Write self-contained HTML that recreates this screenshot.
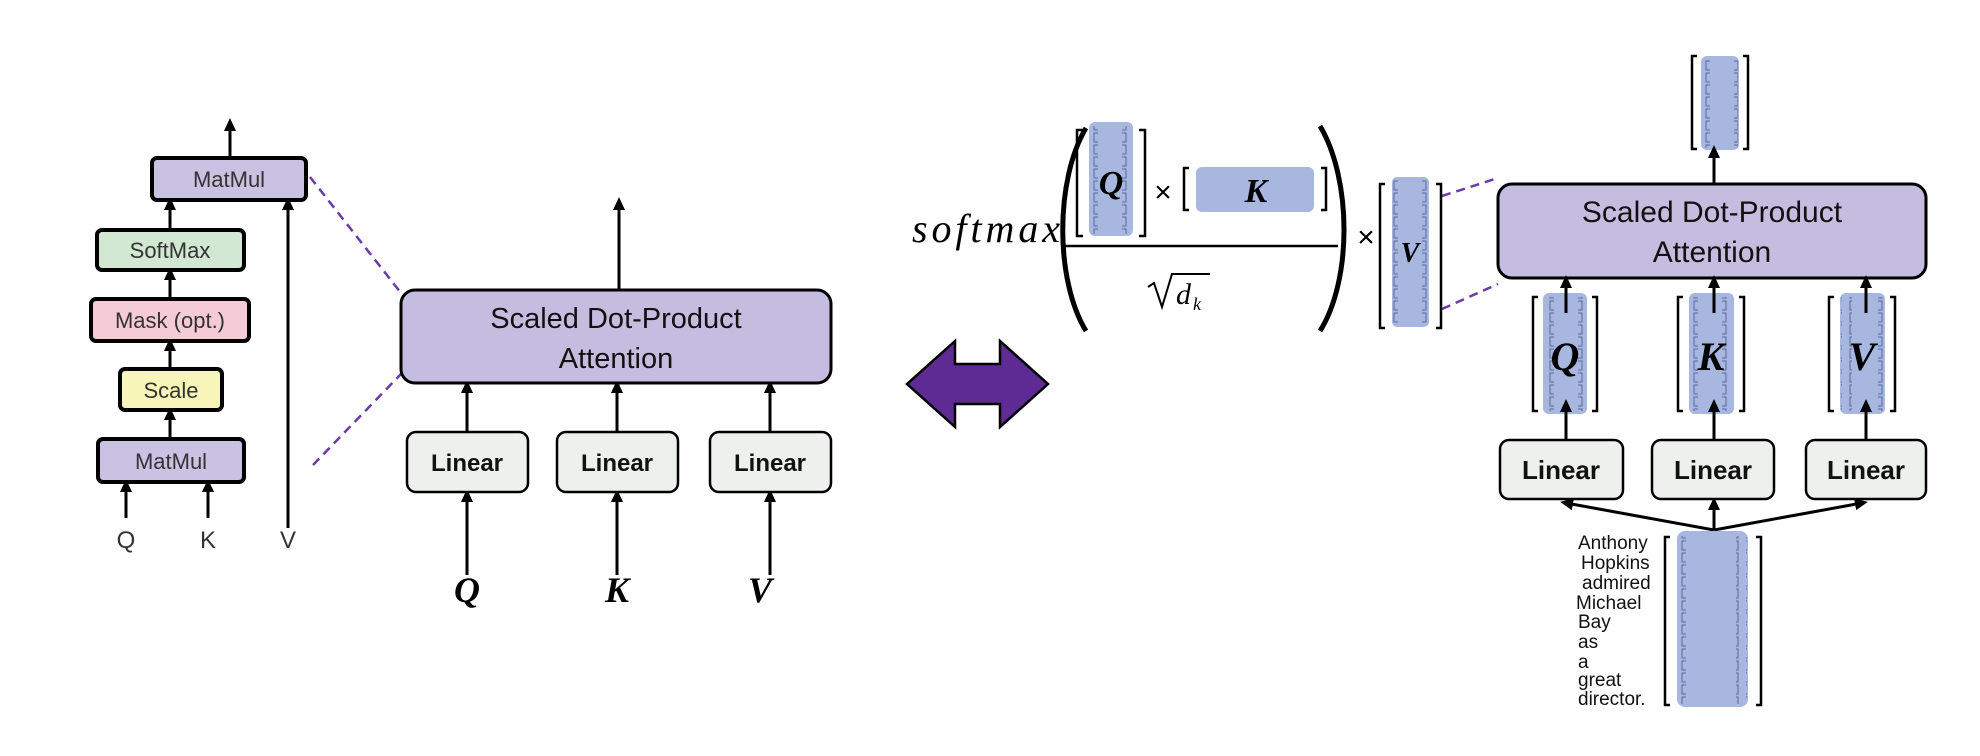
<!DOCTYPE html>
<html><head><meta charset="utf-8"><style>
html,body{margin:0;padding:0;background:#fff;}
svg{display:block;}
text{font-family:"Liberation Sans",sans-serif;}
.m{font-family:"Liberation Serif",serif;font-style:italic;}
.mb{font-family:"Liberation Serif",serif;font-style:italic;font-weight:bold;}
</style></head><body>
<svg width="1980" height="756" viewBox="0 0 1980 756" xmlns="http://www.w3.org/2000/svg">
<defs>
<marker id="ah" markerWidth="14" markerHeight="14" refX="7" refY="7" orient="auto" markerUnits="userSpaceOnUse">
<path d="M0,1 L13,7 L0,13 z" fill="#000"/></marker>
<pattern id="dl" width="12" height="12" patternUnits="userSpaceOnUse">
<path d="M6,1 H2 V10 H6" fill="none" stroke="#5a6a9a" stroke-width="1"/></pattern>
<pattern id="dr" width="12" height="12" patternUnits="userSpaceOnUse">
<path d="M6,1 H10 V10 H6" fill="none" stroke="#5a6a9a" stroke-width="1"/></pattern>
</defs>
<g stroke="#000" stroke-width="3" fill="none" marker-end="url(#ah)">
<line x1="230" y1="157" x2="230" y2="124"/>
<line x1="170" y1="230" x2="170" y2="203"/>
<line x1="170" y1="298" x2="170" y2="273"/>
<line x1="170" y1="369" x2="170" y2="344"/>
<line x1="170" y1="439" x2="170" y2="413"/>
<line x1="126" y1="518" x2="126" y2="485"/>
<line x1="208" y1="518" x2="208" y2="485"/>
<line x1="288" y1="528" x2="288" y2="203"/>
<line x1="619" y1="290" x2="619" y2="203"/>
<line x1="467" y1="432" x2="467" y2="386"/>
<line x1="617" y1="432" x2="617" y2="386"/>
<line x1="770" y1="432" x2="770" y2="386"/>
<line x1="467" y1="575" x2="467" y2="495"/>
<line x1="617" y1="575" x2="617" y2="495"/>
<line x1="770" y1="575" x2="770" y2="495"/>
</g>
<g stroke="#000" stroke-width="4">
<rect x="152" y="158" width="154" height="42" rx="5" fill="#c9c2e2"/>
<rect x="97" y="230" width="147" height="40" rx="5" fill="#d2e8d2"/>
<rect x="91" y="299" width="158" height="42" rx="5" fill="#f4cbd6"/>
<rect x="120" y="369" width="102" height="41" rx="5" fill="#f8f5b8"/>
<rect x="98" y="439" width="146" height="43" rx="5" fill="#c9c2e2"/>
</g>
<g font-size="22" fill="#333" text-anchor="middle">
<text x="229" y="187">MatMul</text>
<text x="170" y="258">SoftMax</text>
<text x="170" y="328">Mask (opt.)</text>
<text x="171" y="398">Scale</text>
<text x="171" y="469">MatMul</text>
<text x="126" y="548" font-size="24">Q</text>
<text x="208" y="548" font-size="24">K</text>
<text x="288" y="548" font-size="24">V</text>
</g>
<g stroke="#6a3aa8" stroke-width="2.5" stroke-dasharray="9,6">
<line x1="310" y1="177" x2="401" y2="293"/>
<line x1="313" y1="465" x2="401" y2="374"/>
<line x1="1442" y1="196" x2="1498" y2="178"/>
<line x1="1442" y1="309" x2="1498" y2="284"/>
</g>
<rect x="401" y="290" width="430" height="93" rx="14" fill="#c5bde0" stroke="#000" stroke-width="3"/>
<text x="616" y="328" font-size="29" text-anchor="middle" fill="#111">Scaled Dot-Product</text>
<text x="616" y="368" font-size="29" text-anchor="middle" fill="#111">Attention</text>
<g stroke="#000" stroke-width="2.5" fill="#eef0ee">
<rect x="407" y="432" width="121" height="60" rx="9"/>
<rect x="557" y="432" width="121" height="60" rx="9"/>
<rect x="710" y="432" width="121" height="60" rx="9"/>
</g>
<g font-size="24" font-weight="bold" text-anchor="middle" fill="#111">
<text x="467" y="471">Linear</text>
<text x="617" y="471">Linear</text>
<text x="770" y="471">Linear</text>
</g>
<g font-size="36" text-anchor="middle">
<text class="mb" x="467" y="602">Q</text>
<text class="mb" x="617" y="602">K</text>
<text class="mb" x="760" y="602">V</text>
</g>
<polygon points="907,384 955,341 955,364 1000,364 1000,341 1048,384 1000,427 1000,404 955,404 955,427" fill="#5e2a94" stroke="#000" stroke-width="2.5"/>
<text class="m" x="912" y="242" font-size="40" textLength="148" lengthAdjust="spacing">softmax</text>
<path d="M1086,128 C1055,180 1055,280 1086,331" fill="none" stroke="#000" stroke-width="5"/>
<path d="M1320,126 C1352,180 1352,280 1320,331" fill="none" stroke="#000" stroke-width="5"/>
<line x1="1065" y1="246" x2="1338" y2="246" stroke="#000" stroke-width="2.5"/>
<rect x="1089" y="122" width="44" height="114" rx="6" fill="#a7b7e0"/>
<rect x="1089" y="126" width="12" height="108" fill="url(#dl)"/>
<rect x="1121" y="126" width="12" height="108" fill="url(#dr)"/>
<path d="M1083,130 h-6 v106 h6 M1139,130 h6 v106 h-6" fill="none" stroke="#000" stroke-width="2.5"/>
<text class="mb" x="1111" y="194" font-size="34" text-anchor="middle">Q</text>
<text x="1163" y="202" font-size="30" text-anchor="middle">×</text>
<rect x="1196" y="167" width="118" height="45" rx="6" fill="#a7b7e0"/>
<path d="M1189,168 h-5 v42 h5 M1321,168 h5 v42 h-5" fill="none" stroke="#000" stroke-width="2.5"/>
<text class="mb" x="1256" y="202" font-size="34" text-anchor="middle">K</text>
<path d="M1148,287 l6,-4 l8,24 l10,-33 h38" fill="none" stroke="#000" stroke-width="2"/>
<text class="m" x="1176" y="304" font-size="30">d</text>
<text class="m" x="1193" y="310" font-size="18">k</text>
<text x="1366" y="247" font-size="30" text-anchor="middle">×</text>
<rect x="1392" y="177" width="37" height="150" rx="5" fill="#a7b7e0"/>
<rect x="1392" y="180" width="11" height="144" fill="url(#dl)"/>
<rect x="1418" y="180" width="11" height="144" fill="url(#dr)"/>
<path d="M1385,184 h-5 v144 h5 M1436,184 h5 v144 h-5" fill="none" stroke="#000" stroke-width="2.5"/>
<text class="mb" x="1410" y="262" font-size="28" text-anchor="middle">V</text>
<rect x="1701" y="56" width="38" height="94" rx="6" fill="#a7b7e0"/>
<rect x="1702" y="60" width="11" height="88" fill="url(#dl)"/>
<rect x="1727" y="60" width="11" height="88" fill="url(#dr)"/>
<path d="M1697,56 h-5 v93 h5 M1743,56 h5 v93 h-5" fill="none" stroke="#000" stroke-width="2.5"/>
<rect x="1498" y="184" width="428" height="94" rx="14" fill="#c5bde0" stroke="#000" stroke-width="3"/>
<text x="1712" y="222" font-size="30" text-anchor="middle" fill="#111">Scaled Dot-Product</text>
<text x="1712" y="262" font-size="30" text-anchor="middle" fill="#111">Attention</text>
<rect x="1543" y="293" width="44" height="121" rx="6" fill="#a7b7e0"/>
<rect x="1544" y="297" width="11" height="114" fill="url(#dl)"/>
<rect x="1575" y="297" width="11" height="114" fill="url(#dr)"/>
<path d="M1538,297 h-5 v114 h5 M1592,297 h5 v114 h-5" fill="none" stroke="#000" stroke-width="2.5"/>
<rect x="1689" y="293" width="45" height="121" rx="6" fill="#a7b7e0"/>
<rect x="1690" y="297" width="11" height="114" fill="url(#dl)"/>
<rect x="1722" y="297" width="11" height="114" fill="url(#dr)"/>
<path d="M1683,297 h-5 v114 h5 M1739,297 h5 v114 h-5" fill="none" stroke="#000" stroke-width="2.5"/>
<rect x="1840" y="293" width="45" height="121" rx="6" fill="#a7b7e0"/>
<rect x="1841" y="297" width="11" height="114" fill="url(#dl)"/>
<rect x="1873" y="297" width="11" height="114" fill="url(#dr)"/>
<path d="M1834,297 h-5 v114 h5 M1890,297 h5 v114 h-5" fill="none" stroke="#000" stroke-width="2.5"/>
<g font-size="40" text-anchor="middle">
<text class="mb" x="1565" y="370">Q</text>
<text class="mb" x="1711" y="370">K</text>
<text class="mb" x="1862" y="370">V</text>
</g>
<g stroke="#000" stroke-width="3" fill="none" marker-end="url(#ah)">
<line x1="1714" y1="184" x2="1714" y2="151"/>
<line x1="1566" y1="313" x2="1566" y2="281"/>
<line x1="1714" y1="313" x2="1714" y2="281"/>
<line x1="1866" y1="313" x2="1866" y2="281"/>
<line x1="1566" y1="440" x2="1566" y2="405"/>
<line x1="1714" y1="440" x2="1714" y2="405"/>
<line x1="1866" y1="440" x2="1866" y2="405"/>
<line x1="1714" y1="530" x2="1566" y2="503"/>
<line x1="1714" y1="530" x2="1714" y2="503"/>
<line x1="1714" y1="530" x2="1862" y2="503"/>
</g>
<g stroke="#000" stroke-width="2.5" fill="#eef0ee">
<rect x="1500" y="440" width="123" height="59" rx="9"/>
<rect x="1652" y="440" width="122" height="59" rx="9"/>
<rect x="1806" y="440" width="120" height="59" rx="9"/>
</g>
<g font-size="26" font-weight="bold" text-anchor="middle" fill="#111">
<text x="1561" y="479">Linear</text>
<text x="1713" y="479">Linear</text>
<text x="1866" y="479">Linear</text>
</g>
<rect x="1677" y="531" width="71" height="176" rx="8" fill="#a7b7e0"/>
<rect x="1678" y="536" width="11" height="168" fill="url(#dl)"/>
<rect x="1736" y="536" width="11" height="168" fill="url(#dr)"/>
<path d="M1670,537 h-5 v168 h5 M1756,537 h5 v168 h-5" fill="none" stroke="#000" stroke-width="2.5"/>
<g font-size="19" fill="#111">
<text x="1578" y="549">Anthony</text>
<text x="1581" y="569">Hopkins</text>
<text x="1582" y="589">admired</text>
<text x="1576" y="609">Michael</text>
<text x="1578" y="628">Bay</text>
<text x="1578" y="648">as</text>
<text x="1578" y="668">a</text>
<text x="1578" y="686">great</text>
<text x="1578" y="705">director.</text>
</g>
</svg>
</body></html>
